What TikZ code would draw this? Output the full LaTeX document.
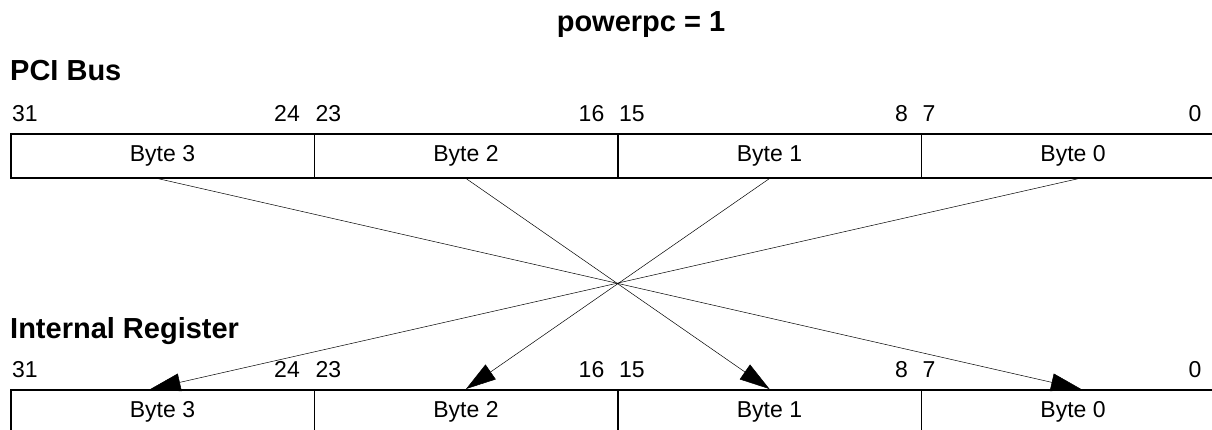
\documentclass[tikz,border=0pt]{standalone}
\usepackage{fontspec}
\setmainfont{Liberation Sans}
\usetikzlibrary{arrows.meta,positioning}
\tikzset{
  bytebox/.style={draw,line width=1.5pt,minimum width=303.5pt,minimum height=44pt,inner sep=0pt,font=\fontsize{23}{27}\selectfont},
  bitnum/.style={inner sep=0pt,font=\fontsize{23}{27}\selectfont},
  heading/.style={inner sep=0pt,font=\bfseries\fontsize{29}{33}\selectfont},
  swap/.style={-{Triangle[length=30pt,width=18pt]},line width=.5pt}
}
\begin{document}
\begin{tikzpicture}[x=1pt,y=-1pt]
  \useasboundingbox (0,0) rectangle (1212,429);
  \node[heading,anchor=base] (title) at (641,31) {powerpc = 1};
  \node[heading,anchor=base west] (pcilabel) at (10,80) {PCI Bus};
  \node[heading,anchor=base west] (reglabel) at (10,338) {Internal Register};

  % byte fields, bus on top and register below
  \foreach \b [count=\i from 0] in {3,2,1,0}{
    \node[bytebox,anchor=north west] (pci\b) at (10+303.5*\i,133) {Byte \b};
    \node[bytebox,anchor=north west] (reg\b) at (10+303.5*\i,389) {Byte \b};
  }

  % bit numbers over each field
  \foreach \b/\hi/\lo/\sh in {3/31/24/15,2/23/16/14,1/15/8/14,0/7/0/24}{
    \node[bitnum,anchor=base west] (pcihi\b) at ([xshift=2pt,yshift=12pt]pci\b.north west) {\hi};
    \node[bitnum,anchor=base east] (pcilo\b) at ([xshift=-\sh pt,yshift=12pt]pci\b.north east) {\lo};
    \node[bitnum,anchor=base west] (reghi\b) at ([xshift=2pt,yshift=12pt]reg\b.north west) {\hi};
    \node[bitnum,anchor=base east] (reglo\b) at ([xshift=-\sh pt,yshift=12pt]reg\b.north east) {\lo};
  }

  % byte swap
  \draw[swap] ([xshift=-5pt]pci3.south) -- ([xshift=8pt]reg0.north);
  \draw[swap] (pci2.south) -- (reg1.north);
  \draw[swap] (pci1.south) -- (reg2.north);
  \draw[swap] ([xshift=6pt]pci0.south) -- ([xshift=-12pt]reg3.north);
\end{tikzpicture}
\end{document}
